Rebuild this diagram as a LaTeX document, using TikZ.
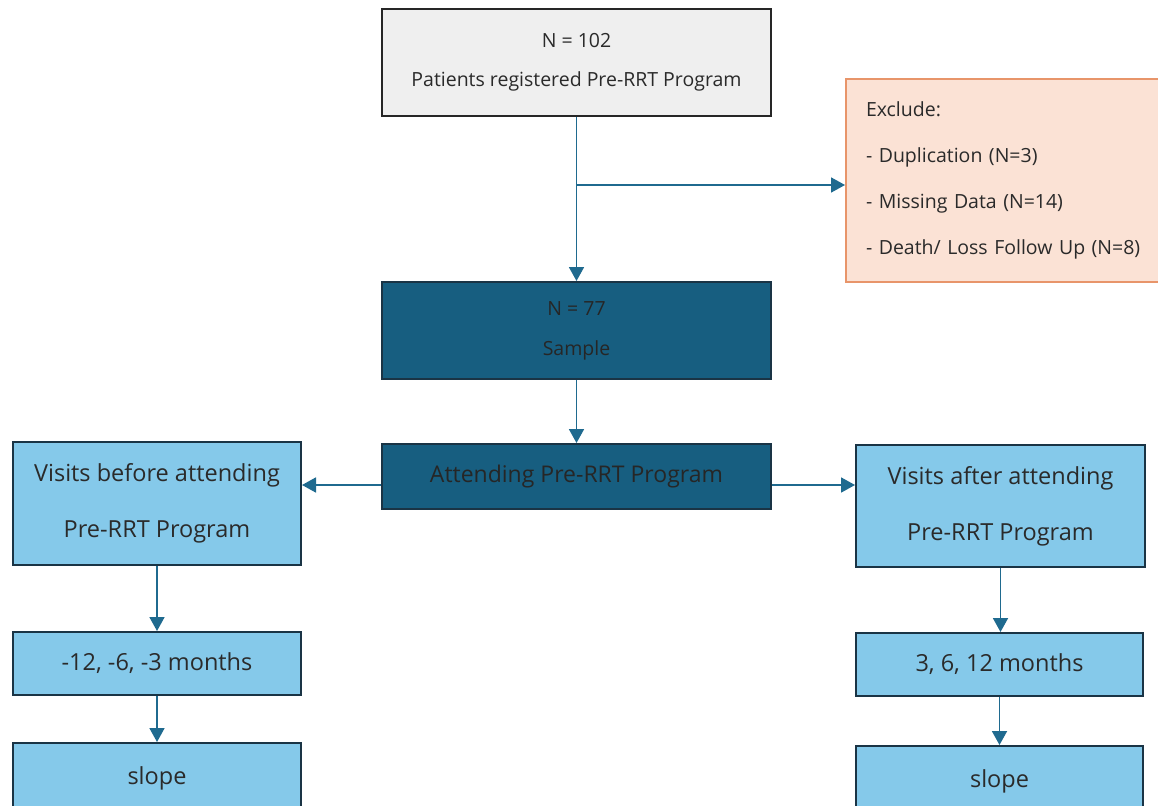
\documentclass[tikz,border=0pt]{standalone}
\usepackage{fontspec}
\setmainfont{Open Sans}
\usetikzlibrary{arrows.meta}
\definecolor{grayfill}{HTML}{EFEFEF}
\definecolor{exfill}{HTML}{FBE2D5}
\definecolor{exborder}{HTML}{E8956A}
\definecolor{darkteal}{HTML}{175E80}
\definecolor{lightblue}{HTML}{85C9EA}
\definecolor{arrowcol}{HTML}{1F6A8F}
\definecolor{edgecol}{HTML}{1A3445}
\definecolor{txt}{HTML}{2A2A2A}
\tikzset{
  box/.style={draw=edgecol, line width=2pt, anchor=north west, align=center, text=txt, inner sep=0pt},
  topbox/.style={box, draw=black!85, fill=grayfill, font=\fontsize{19.5}{39}\selectfont},
  exbox/.style={box, draw=exborder, fill=exfill, align=left, inner xsep=20pt, font=\fontsize{19.5}{46}\selectfont},
  darkbox/.style={box, fill=darkteal, text=black!85},
  bluebox/.style={box, fill=lightblue, font=\fontsize{23.5}{56}\selectfont},
  arr/.style={draw=arrowcol, line width=1.8pt, -{Triangle[width=15pt,length=14pt]}},
}
\begin{document}
\begin{tikzpicture}[x=1pt,y=1pt]
\clip (0,0) rectangle (1158,-805);
\fill[white] (0,0) rectangle (1158,-805);
% top
\node[topbox, minimum width=389, minimum height=107] (top) at (381,-8) {N = 102\\Patients registered Pre-RRT Program};
% exclude
\node[exbox, minimum width=320, minimum height=203, text width=280] (excl) at (845,-78) {Exclude:\\- Duplication (N=3)\\- Missing Data (N=14)\\- Death/ Loss Follow Up (N=8)};
% sample
\node[darkbox, minimum width=389, minimum height=97, font=\fontsize{19.5}{40}\selectfont] (sample) at (381,-281) {N = 77\\Sample};
% attending
\node[darkbox, minimum width=389, minimum height=65, font=\fontsize{23}{28}\selectfont] (attend) at (381,-443) {Attending Pre-RRT Program};
% left column
\node[bluebox, minimum width=288, minimum height=123] (vb) at (12,-441) {Visits before attending\\Pre-RRT Program};
\node[bluebox, minimum width=288, minimum height=63] (lm) at (12,-631) {-12, -6, -3 months};
\node[bluebox, minimum width=288, minimum height=70] (ls) at (12,-742) {slope};
% right column
\node[bluebox, minimum width=289, minimum height=122] (va) at (855,-444) {Visits after attending\\Pre-RRT Program};
\node[bluebox, minimum width=287, minimum height=63] (rm) at (855,-632) {3, 6, 12 months};
\node[bluebox, minimum width=287, minimum height=70] (rs) at (855,-745) {slope};
% connectors
\coordinate (br) at (576,-185);
\draw[arr] (top.south) -- (sample.north);
\draw[arr] (br) -- (br -| excl.west);
\draw[arr] (sample.south) -- (attend.north);
\draw[arr] (attend.west |- 0,-485) -- (vb.east |- 0,-485);
\draw[arr] (attend.east |- 0,-485) -- (va.west |- 0,-485);
\draw[arr] (vb.south) -- (lm.north);
\draw[arr] (lm.south) -- (ls.north);
\draw[arr] (va.south) -- (va.south |- rm.north);
\draw[arr] (rm.south) -- (rm.south |- rs.north);
\end{tikzpicture}
\end{document}
